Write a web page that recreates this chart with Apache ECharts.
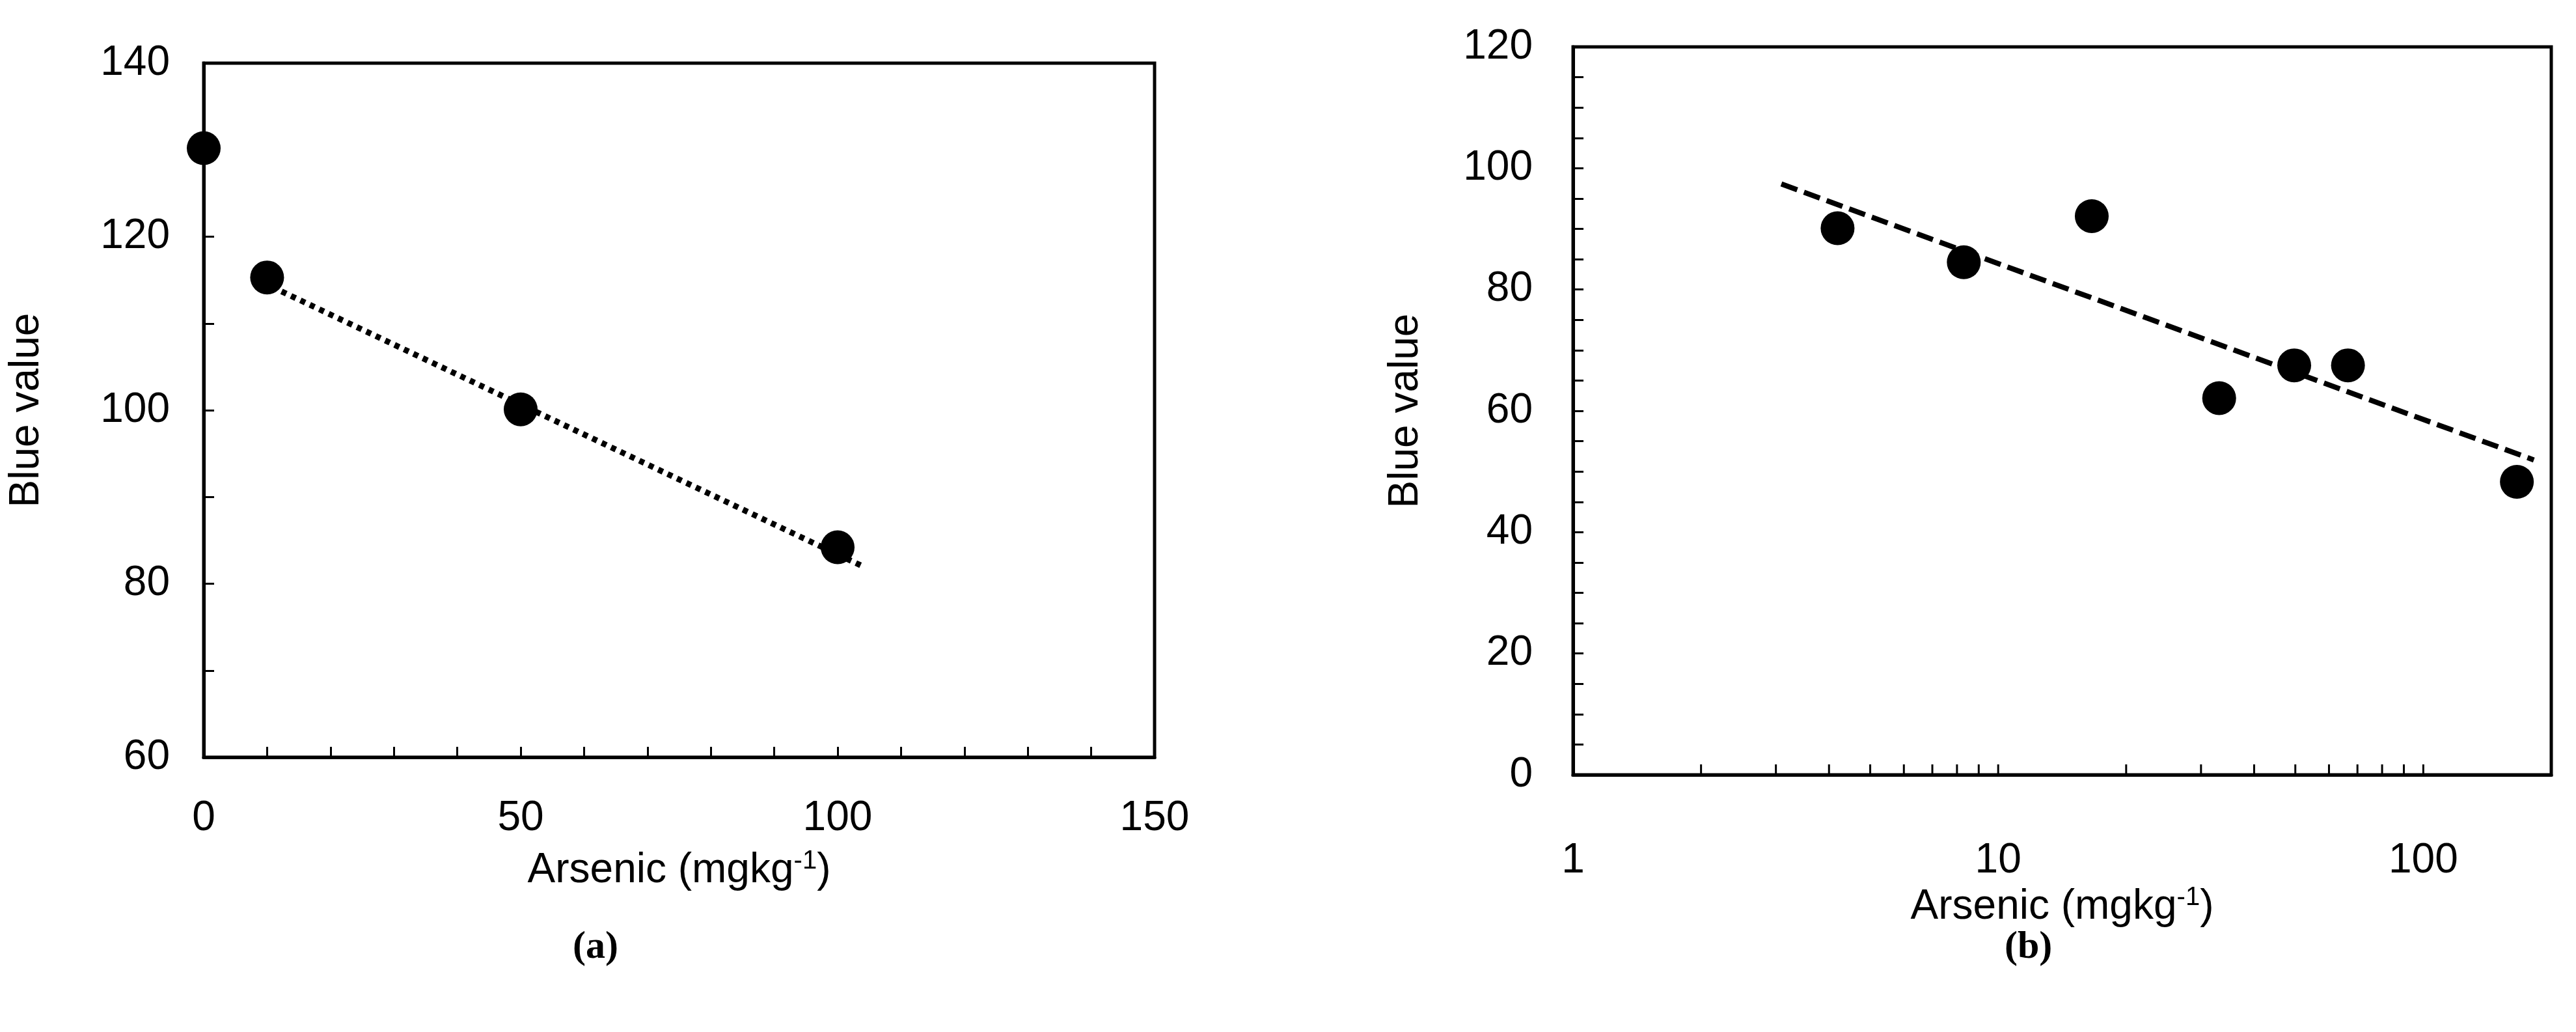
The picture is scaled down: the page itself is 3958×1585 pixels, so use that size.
<!DOCTYPE html>
<html><head><meta charset="utf-8">
<script src="https://cdn.jsdelivr.net/npm/echarts@6/dist/echarts.min.js"></script>
<style>html,body{margin:0;padding:0;background:#fff}#c{width:3958px;height:1585px}</style>
</head><body><div id="c"></div>
<script>
// Panel (a)
const aX = [0, 10, 50, 100];
const aY = [130.2, 115.3, 100.1, 84.2];
const aTrendX = [10.8, 103.7];
const aTrendY = [114.2, 82.1];
// Panel (b)
const bX = [4.19, 8.3, 16.6, 33.1, 49.7, 66.5, 166];
const bY = [90.1, 84.5, 92.1, 62.1, 67.5, 67.5, 48.3];
const bTrendX = [3.09, 182];
const bTrendY = [97.4, 51.9];
const bLogTicks = [2,3,4,5,6,7,8,9,10,20,30,40,50,60,70,80,90,100];

const F = 'Liberation Sans, Arial, sans-serif';
const axisName = {
  fontFamily: F, fontSize: 64, color: '#000',
  rich: { sup: { fontFamily: F, fontSize: 40, color: '#000', padding: [0, 0, 28, 0] } }
};
const xName = 'Arsenic (mgkg{sup|-1})';
const line = { lineStyle: { color: '#000', width: 5 } };
const lbl = (fn) => ({ fontFamily: F, fontSize: 64, color: '#000', formatter: fn });

const chart = echarts.init(document.getElementById('c'));
chart.setOption({
  backgroundColor: '#fff',
  animation: false,
  grid: [
    { left: 313, width: 1461, top: 97, height: 1066, show: true, borderColor: '#000', borderWidth: 5 },
    { left: 2417, width: 1503, top: 72, height: 1118, show: true, borderColor: '#000', borderWidth: 5 }
  ],
  xAxis: [
    { gridIndex: 0, type: 'value', min: 0, max: 150, interval: 10,
      axisLine: line, splitLine: { show: false },
      axisTick: { inside: true, length: 16, lineStyle: { color: '#000', width: 3 } },
      axisLabel: Object.assign(lbl(v => v % 50 === 0 ? v : ''), { margin: 62 }),
      name: xName, nameLocation: 'middle', nameGap: 140, nameTextStyle: axisName },
    { gridIndex: 1, type: 'log', logBase: 10, min: 1, max: 200,
      axisLine: line, splitLine: { show: false }, axisTick: { show: false },
      axisLabel: Object.assign(lbl(v => [1, 10, 100].includes(Math.round(v)) ? Math.round(v) : ''), { margin: 100, showMaxLabel: false }),
      name: xName, nameLocation: 'middle', nameGap: 112, nameTextStyle: axisName }
  ],
  yAxis: [
    { gridIndex: 0, type: 'value', min: 60, max: 140, interval: 10,
      axisLine: line, splitLine: { show: false },
      axisTick: { inside: true, length: 16, lineStyle: { color: '#000', width: 3 } },
      axisLabel: Object.assign(lbl(v => v % 20 === 0 ? v : ''), { margin: 52 }),
      name: 'Blue value', nameLocation: 'middle', nameGap: 240, nameTextStyle: axisName },
    { gridIndex: 1, type: 'value', min: 0, max: 120, interval: 5,
      axisLine: line, splitLine: { show: false },
      axisTick: { inside: true, length: 16, lineStyle: { color: '#000', width: 3 } },
      axisLabel: Object.assign(lbl(v => v % 20 === 0 ? v : ''), { margin: 62 }),
      name: 'Blue value', nameLocation: 'middle', nameGap: 225, nameTextStyle: axisName }
  ],
  graphic: [
    { type: 'text', left: 880, top: 1425, style: { text: '(a)', font: 'bold 60px "Liberation Serif", serif', fill: '#000' } },
    { type: 'text', left: 3080, top: 1425, style: { text: '(b)', font: 'bold 60px "Liberation Serif", serif', fill: '#000' } }
  ],
  series: [
    { type: 'line', xAxisIndex: 0, yAxisIndex: 0, symbol: 'none',
      data: aTrendX.map((x, i) => [x, aTrendY[i]]),
      lineStyle: { color: '#000', width: 9, type: [8, 8] } },
    { type: 'scatter', xAxisIndex: 0, yAxisIndex: 0, symbolSize: 52,
      itemStyle: { color: '#000', opacity: 1 }, data: aX.map((x, i) => [x, aY[i]]) },
    { type: 'line', xAxisIndex: 1, yAxisIndex: 1, symbol: 'none',
      data: bTrendX.map((x, i) => [x, bTrendY[i]]),
      lineStyle: { color: '#000', width: 8, type: [26, 11] } },
    { type: 'scatter', xAxisIndex: 1, yAxisIndex: 1, symbolSize: 52,
      itemStyle: { color: '#000', opacity: 1 }, data: bX.map((x, i) => [x, bY[i]]) },
    { type: 'custom', xAxisIndex: 1, yAxisIndex: 1, silent: true,
      data: bLogTicks.map(t => [t, 0]),
      renderItem: (params, api) => {
        const p = api.coord([api.value(0), 0]);
        return { type: 'line', shape: { x1: p[0], y1: p[1], x2: p[0], y2: p[1] - 16 },
                 style: { stroke: '#000', lineWidth: 3 } };
      } }
  ]
});
</script></body></html>
